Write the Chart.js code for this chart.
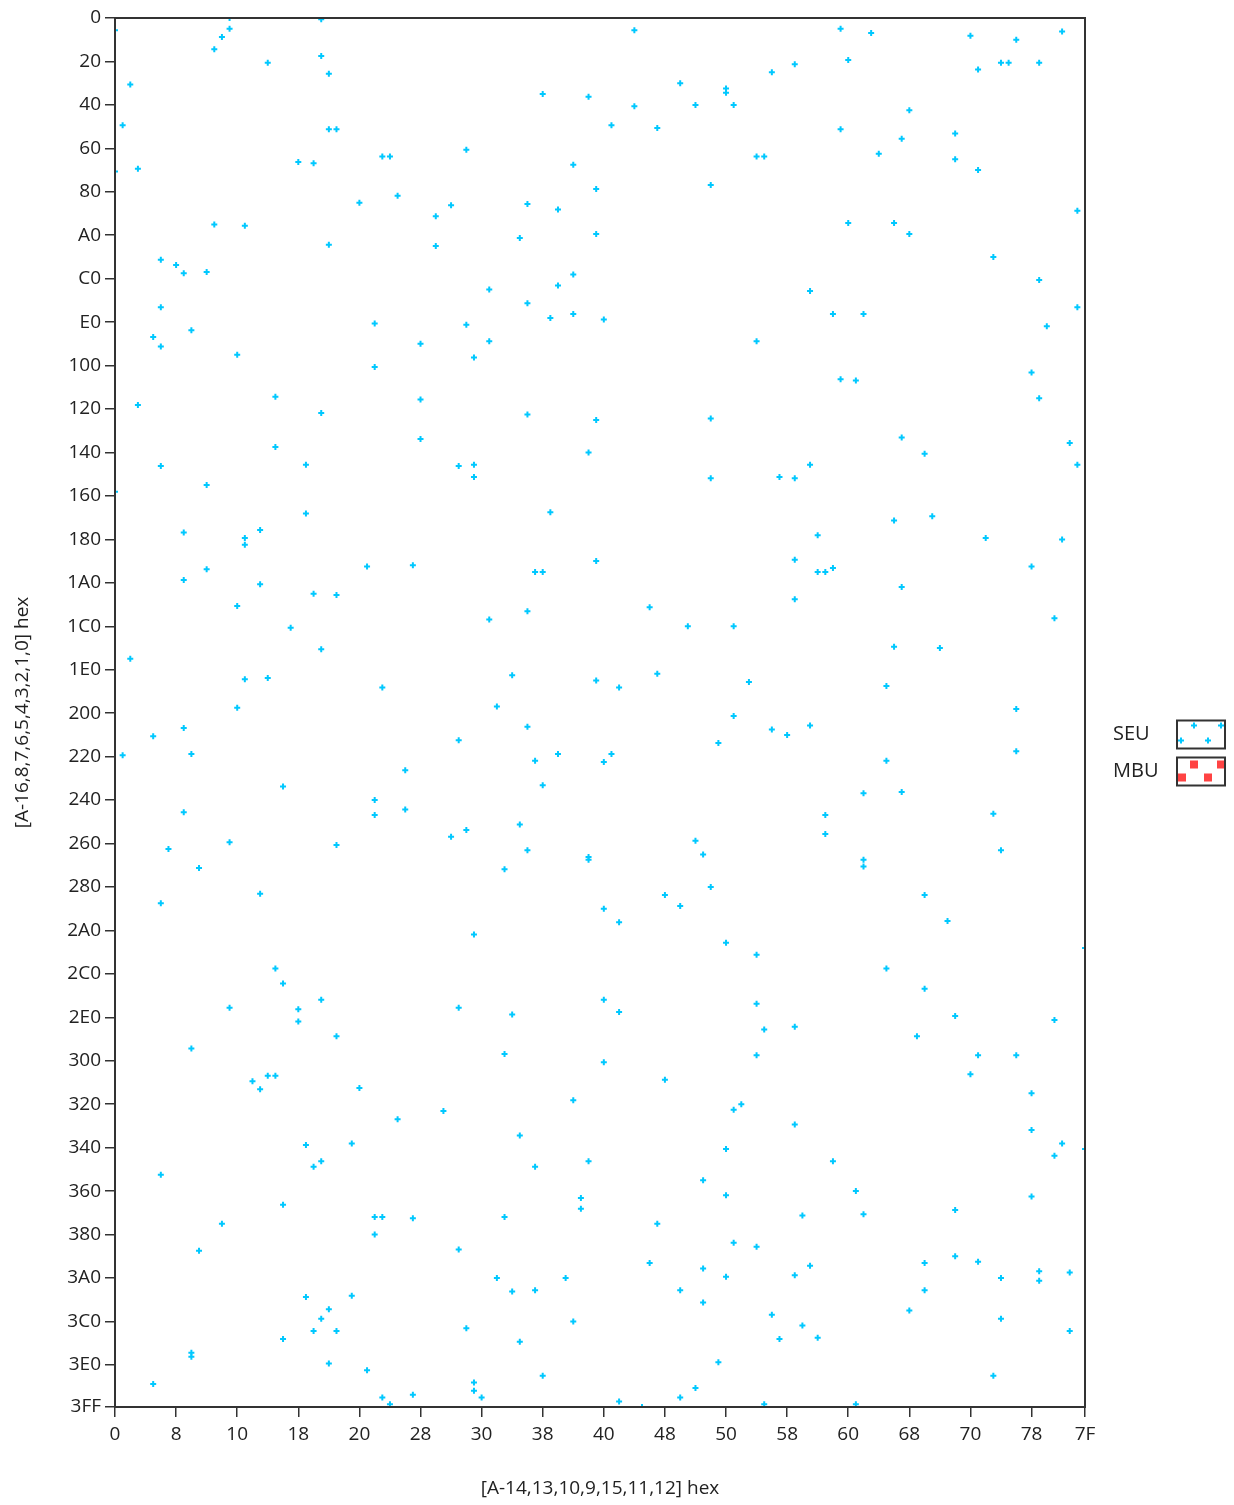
<!DOCTYPE html>
<html>
<head>
<meta charset="utf-8">
<script src="https://cdn.jsdelivr.net/npm/chart.js@4.4.1/dist/chart.umd.min.js"></script>
<style>
  html, body { margin: 0; padding: 0; background: #fff; }
  #wrap { position: relative; width: 1234px; height: 1505px; }
</style>
</head>
<body>
<div id="wrap"><canvas id="ch-bitmap"></canvas></div>
<script>
// Fehlerkarte: Position (Spalte, Zeile) jedes SEU, Adressen hexadezimal.
const seriesNames = ["SEU", "MBU"];
const xTitle = "[A-14,13,10,9,15,11,12] hex";
const yTitle = "[A-16,8,7,6,5,4,3,2,1,0] hex";
const xTicks = [0, 8, 16, 24, 32, 40, 48, 56, 64, 72, 80, 88, 96, 104, 112, 120, 127];
const yTicks = [0, 32, 64, 96, 128, 160, 192, 224, 256, 288, 320, 352, 384, 416, 448, 480, 512,
  544, 576, 608, 640, 672, 704, 736, 768, 800, 832, 864, 896, 928, 960, 992, 1023];

// [Spalte, Zeile]
const seuHits = [
  [0,9],[15,0],[15,8],[14,14],[13,23],[27,1],[27,28],[28,41],[20,33],[2,49],[1,79],[28,82],[29,82],
  [0,113],[3,111],[24,106],[26,107],[35,102],[36,102],[37,131],[32,136],[42,146],[13,152],[17,153],
  [28,167],[42,168],[6,178],[8,182],[9,188],[12,187],[6,213],[5,235],[6,242],[10,230],[16,248],
  [34,225],[34,257],[40,240],[40,281],[3,285],[21,279],[27,291],[40,310],[21,316],[6,330],[25,329],
  [68,9],[74,48],[80,52],[80,55],[56,56],[62,58],[68,65],[76,64],[81,64],[65,79],[71,81],[46,97],
  [60,108],[84,102],[85,102],[78,123],[63,126],[44,138],[54,137],[58,141],[53,162],[63,159],[60,189],
  [49,200],[58,197],[54,210],[46,226],[57,221],[60,218],[64,222],[49,238],[47,250],[84,238],[54,292],
  [63,296],[78,295],[62,320],[45,330],[47,329],[47,338],[78,339],
  [95,8],[99,11],[112,13],[118,16],[124,10],[89,34],[86,40],[96,31],[113,38],[116,33],[117,33],
  [121,33],[104,68],[95,82],[103,89],[110,85],[100,100],[110,104],[113,112],[126,142],[96,151],
  [102,151],[104,159],[115,176],[121,193],[126,213],[122,227],[91,201],[94,218],[98,218],[95,266],
  [97,267],[120,261],[121,280],[103,309],[125,313],[106,321],[91,329],[126,329],[87,338],[89,339],
  [0,349],[12,344],[25,365],[9,379],[17,383],[17,388],[19,377],[33,404],[39,403],[12,406],[9,414],
  [19,417],[26,424],[29,425],[16,433],[23,449],[27,465],[2,472],[17,487],[20,486],[35,493],[16,508],
  [9,523],[5,529],[10,542],[1,543],[38,554],[22,566],[34,576],[34,587],[38,583],[9,585],[15,607],
  [7,612],[29,609],[11,626],[19,645],[6,652],
  [57,364],[63,400],[55,408],[56,408],[54,437],[49,443],[70,434],[75,448],[81,448],[52,484],[63,488],
  [66,493],[71,483],[83,489],[50,507],[54,522],[81,514],[45,532],[55,547],[58,542],[64,548],[65,542],
  [79,534],[56,565],[53,594],[46,598],[44,603],[54,613],[62,618],[62,620],[51,627],[76,606],[77,616],
  [78,640],[72,646],[74,654],[64,656],[66,666],[47,675],[80,681],
  [102,370],[107,367],[92,381],[114,383],[124,384],[89,399],[92,408],[93,408],[94,405],[120,404],
  [103,419],[89,428],[123,442],[102,463],[108,464],[101,492],[118,509],[91,521],[86,524],[88,528],
  [118,540],[101,547],[98,571],[103,570],[93,587],[93,601],[115,586],[116,613],[98,620],[98,625],
  [106,646],[109,665],
  [21,700],[22,711],[27,723],[15,729],[24,730],[24,739],[29,750],[10,759],[18,783],[19,789],[20,779],
  [21,779],[32,788],[37,811],[25,830],[31,829],[26,846],[27,842],[6,852],[22,874],[14,888],[34,883],
  [35,883],[39,884],[34,896],[11,908],[25,942],[31,941],[28,951],[27,958],[26,967],[29,967],[22,973],
  [10,983],[10,986],[28,991],[33,996],[5,1006],[39,1014],[35,1016],[36,1021],
  [84,690],[45,729],[52,734],[64,723],[66,732],[84,726],[85,745],[51,763],[64,769],[84,764],[72,782],
  [43,805],[60,797],[81,804],[82,800],[53,823],[55,846],[62,842],[80,833],[77,856],[80,867],[61,869],
  [61,877],[51,883],[71,888],[45,907],[81,902],[84,905],[70,917],[77,921],[80,927],[50,928],[59,928],
  [52,938],[55,937],[74,937],[77,946],[46,965],[60,960],[53,975],[79,990],[56,1000],[47,1005],
  [47,1011],[48,1016],[66,1019],[69,1023],[74,1016],[76,1009],[85,1021],
  [127,685],[101,700],[106,715],[110,735],[123,738],[89,743],[105,750],[113,764],[118,764],[112,778],
  [120,792],[89,815],[120,819],[124,829],[123,838],[127,833],[94,842],[97,864],[98,881],[90,882],
  [110,878],[120,868],[91,919],[89,926],[106,917],[110,912],[113,916],[121,923],[121,930],[125,924],
  [116,928],[106,937],[86,955],[90,963],[87,973],[92,972],[104,952],[116,958],[125,967],[115,1000],
  [97,1021]
];
// keine MBU in diesem Lauf
const mbuHits = [];

const SEU_COLOR = "#00C8FF";
const MBU_COLOR = "#FF4343";
const FRAME = "#333";
const FONT = "'Open Sans', 'DejaVu Sans', sans-serif";

const hex = (v) => Number(v).toString(16).toUpperCase();

// Rahmen um die Zeichenfläche + Legende rechts (Name links, Musterkästchen rechts)
const framePlugin = {
  id: "frameLegend",
  afterDatasetsDraw(chart) {
    const { ctx, chartArea: a } = chart;
    ctx.save();
    ctx.strokeStyle = FRAME;
    ctx.lineWidth = 2;
    ctx.strokeRect(a.left, a.top, a.right - a.left, a.bottom - a.top);
    ctx.restore();
  },
  afterDraw(chart) {
    const { ctx, chartArea: a } = chart;
    const mid = (a.top + a.bottom) / 2;
    const textX = a.right + 28, boxX = a.right + 92, boxW = 48, boxH = 28;
    const rows = [
      { name: seriesNames[0], top: mid + 8 },
      { name: seriesNames[1], top: mid + 45 }
    ];
    ctx.save();
    ctx.font = "20px " + FONT;
    ctx.fillStyle = "#222";
    ctx.textBaseline = "middle";
    ctx.textAlign = "left";
    rows.forEach((r, i) => {
      ctx.fillText(r.name, textX, r.top + boxH / 2);
      ctx.save();
      ctx.beginPath();
      ctx.rect(boxX, r.top, boxW, boxH);
      ctx.clip();
      if (i === 0) {
        const style = { pointStyle: "cross", radius: 3, borderWidth: 2, rotation: 0 };
        ctx.strokeStyle = SEU_COLOR;
        ctx.lineWidth = 2;
        [[17, 5], [44, 5], [4, 20], [31, 20]].forEach(([dx, dy]) =>
          Chart.helpers.drawPoint(ctx, style, boxX + dx, r.top + dy));
      } else {
        ctx.fillStyle = MBU_COLOR;
        [[13, 3], [40, 3], [1, 16], [27, 16]].forEach(([dx, dy]) =>
          ctx.fillRect(boxX + dx, r.top + dy, 8, 8));
      }
      ctx.restore();
      ctx.strokeStyle = FRAME;
      ctx.lineWidth = 2;
      ctx.strokeRect(boxX, r.top, boxW, boxH);
    });
    ctx.restore();
  }
};

new Chart(document.getElementById("ch-bitmap"), {
  type: "scatter",
  data: {
    datasets: [
      {
        label: seriesNames[0],
        data: seuHits.map(([x, y]) => ({ x, y })),
        pointStyle: "cross", pointRadius: 3, pointHoverRadius: 3,
        borderColor: SEU_COLOR, backgroundColor: SEU_COLOR, pointBorderWidth: 2,
        clip: 0
      },
      {
        label: seriesNames[1],
        data: mbuHits.map(([x, y]) => ({ x, y })),
        pointStyle: "rect", pointRadius: 4,
        borderColor: MBU_COLOR, backgroundColor: MBU_COLOR,
        clip: 0
      }
    ]
  },
  options: {
    responsive: true, maintainAspectRatio: false, animation: false,
    layout: { padding: { top: 18, right: 149, left: 0, bottom: 0 } },
    plugins: { legend: { display: false }, tooltip: { enabled: false } },
    scales: {
      x: {
        type: "linear", position: "bottom", min: 0, max: 127,
        afterBuildTicks: (s) => { s.ticks = xTicks.map((v) => ({ value: v })); },
        afterFit: (s) => { s.height = 98; },
        ticks: { autoSkip: false, maxRotation: 0, padding: 6, color: "#222",
                 font: { family: FONT, size: 19 }, callback: (v) => hex(v) },
        grid: { drawOnChartArea: false, drawTicks: true, tickLength: 10, color: FRAME, lineWidth: 1.5 },
        border: { display: false },
        title: { display: true, text: xTitle, color: "#222", padding: { top: 0, bottom: 5 },
                 font: { family: FONT, size: 19 } }
      },
      y: {
        type: "linear", position: "left", min: 0, max: 1023, reverse: true,
        afterBuildTicks: (s) => { s.ticks = yTicks.map((v) => ({ value: v })); },
        afterFit: (s) => { s.width = 115; },
        ticks: { autoSkip: false, padding: 4, color: "#222",
                 font: { family: FONT, size: 19 }, callback: (v) => hex(v) },
        grid: { drawOnChartArea: false, drawTicks: true, tickLength: 10, color: FRAME, lineWidth: 1.5 },
        border: { display: false },
        title: { display: true, text: yTitle, color: "#222", padding: { top: 11, bottom: 0 },
                 font: { family: FONT, size: 19 } }
      }
    }
  },
  plugins: [framePlugin]
});
</script>
</body>
</html>
